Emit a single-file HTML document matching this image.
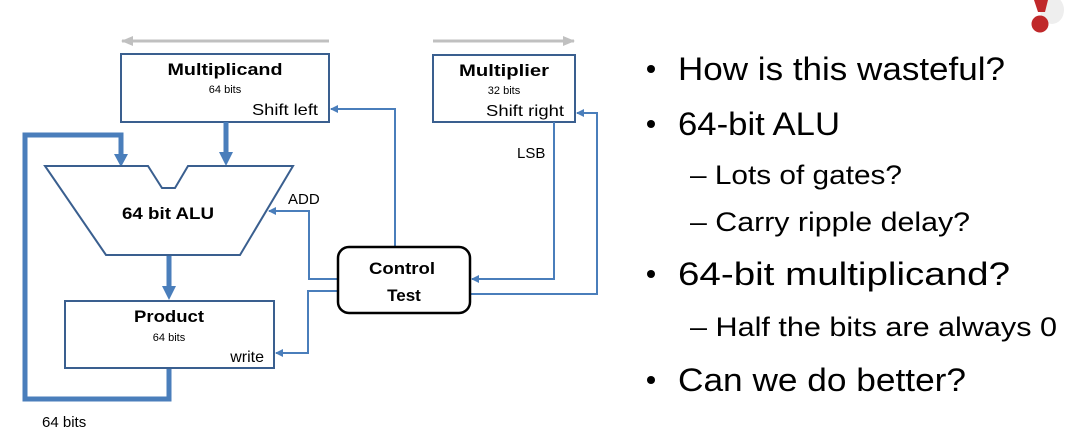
<!DOCTYPE html>
<html><head><meta charset="utf-8"><style>html,body{margin:0;padding:0;background:#fff}svg{display:block}</style></head>
<body>
<svg width="1075" height="437" viewBox="0 0 1075 437" xmlns="http://www.w3.org/2000/svg" font-family="Liberation Sans, sans-serif">
<defs>
<marker id="a" markerWidth="8" markerHeight="8" refX="7" refY="4" orient="auto" markerUnits="userSpaceOnUse"><path d="M0,0 L8,4 L0,8 Z" fill="#4a7ebb"/></marker>
<marker id="g" markerWidth="12" markerHeight="10" refX="11" refY="5" orient="auto" markerUnits="userSpaceOnUse"><path d="M0,0 L12,5 L0,10 Z" fill="#c0c0c0"/></marker>
</defs>
<line x1="329" y1="41" x2="122" y2="41" stroke="#c0c0c0" stroke-width="3" marker-end="url(#g)"/>
<line x1="433" y1="41" x2="574" y2="41" stroke="#c0c0c0" stroke-width="3" marker-end="url(#g)"/>
<rect x="121" y="54" width="208" height="68" fill="#fff" stroke="#3a5f8f" stroke-width="2"/>
<text x="225" y="75" font-size="17" font-weight="bold" text-anchor="middle" textLength="115" lengthAdjust="spacingAndGlyphs">Multiplicand</text>
<text x="225" y="93" font-size="11" text-anchor="middle">64 bits</text>
<text x="318" y="115" font-size="16" text-anchor="end" textLength="66" lengthAdjust="spacingAndGlyphs">Shift left</text>
<rect x="433" y="55" width="142" height="67" fill="#fff" stroke="#3a5f8f" stroke-width="2"/>
<text x="504" y="76" font-size="17" font-weight="bold" text-anchor="middle" textLength="90" lengthAdjust="spacingAndGlyphs">Multiplier</text>
<text x="504" y="94" font-size="11" text-anchor="middle">32 bits</text>
<text x="564" y="116" font-size="16" text-anchor="end" textLength="78" lengthAdjust="spacingAndGlyphs">Shift right</text>
<polyline points="169,369 169,399 25,399 25,135 121,135 121,160" fill="none" stroke="#4a7ebb" stroke-width="5"/>
<path d="M114,154 L128,154 L121,167 Z" fill="#4a7ebb"/>
<line x1="226" y1="122" x2="226" y2="156" stroke="#4a7ebb" stroke-width="5"/>
<path d="M219,152 L233,152 L226,166 Z" fill="#4a7ebb"/>
<line x1="169" y1="256" x2="169" y2="290" stroke="#4a7ebb" stroke-width="5"/>
<path d="M162,286 L176,286 L169,300 Z" fill="#4a7ebb"/>
<polygon points="45,166 148,166 162,188 175,188 188,166 293,166 240,255 106,255" fill="#fff" stroke="#3a5f8f" stroke-width="2"/>
<text x="168" y="219" font-size="17" font-weight="bold" text-anchor="middle" textLength="92" lengthAdjust="spacingAndGlyphs">64 bit ALU</text>
<rect x="65" y="301" width="209" height="67" fill="#fff" stroke="#3a5f8f" stroke-width="2"/>
<text x="169" y="322" font-size="17" font-weight="bold" text-anchor="middle" textLength="70" lengthAdjust="spacingAndGlyphs">Product</text>
<text x="169" y="341" font-size="11" text-anchor="middle">64 bits</text>
<text x="264" y="362" font-size="16" text-anchor="end">write</text>
<g fill="none" stroke="#4a7ebb" stroke-width="2">
<polyline points="395,247 395,109 331,109" marker-end="url(#a)"/>
<polyline points="338,279 309,279 309,211 269,211" marker-end="url(#a)"/>
<polyline points="338,291 308,291 308,353 276,353" marker-end="url(#a)"/>
<polyline points="554,122 554,279 472,279" marker-end="url(#a)"/>
<polyline points="470,294 597,294 597,113 577,113" marker-end="url(#a)"/>
</g>
<rect x="338" y="247" width="132" height="66" rx="11" fill="#fff" stroke="#000" stroke-width="2.5"/>
<text x="402" y="274" font-size="17" font-weight="bold" text-anchor="middle" textLength="66" lengthAdjust="spacingAndGlyphs">Control</text>
<text x="404" y="301" font-size="17" font-weight="bold" text-anchor="middle">Test</text>
<text x="288" y="204" font-size="15">ADD</text>
<text x="517" y="158" font-size="15">LSB</text>
<text x="42" y="427" font-size="15">64 bits</text>
<ellipse cx="1052" cy="10" rx="12" ry="14" fill="#eee"/>
<path d="M1034,0 L1048,0 L1045,12 L1038,12 Z" fill="#c0282a"/>
<circle cx="1040" cy="24" r="8.5" fill="#c0282a"/>
<g fill="#000">
<circle cx="651" cy="69" r="4"/><text x="678" y="80" font-size="32" textLength="327" lengthAdjust="spacingAndGlyphs">How is this wasteful?</text>
<circle cx="651" cy="124" r="4"/><text x="678" y="135" font-size="32" textLength="162" lengthAdjust="spacingAndGlyphs">64-bit ALU</text>
<text x="690" y="184" font-size="27" textLength="212" lengthAdjust="spacingAndGlyphs">– Lots of gates?</text>
<text x="690" y="231" font-size="27" textLength="280" lengthAdjust="spacingAndGlyphs">– Carry ripple delay?</text>
<circle cx="651" cy="274" r="4"/><text x="678" y="285" font-size="32" textLength="332" lengthAdjust="spacingAndGlyphs">64-bit multiplicand?</text>
<text x="690" y="336" font-size="27" textLength="367" lengthAdjust="spacingAndGlyphs">– Half the bits are always 0</text>
<circle cx="651" cy="380" r="4"/><text x="678" y="391" font-size="32" textLength="288" lengthAdjust="spacingAndGlyphs">Can we do better?</text>
</g>
</svg>
</body></html>
